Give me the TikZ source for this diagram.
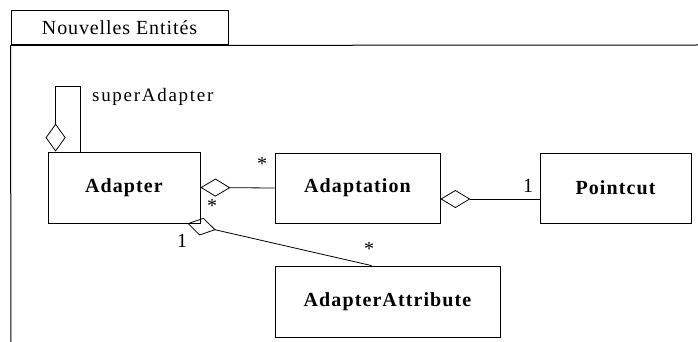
\documentclass[tikz,border=0pt]{standalone}
\usepackage{fontspec}
\setmainfont{Liberation Serif}
\newfontfamily\spA[LetterSpace=4.5]{Liberation Serif}
\newfontfamily\spB[LetterSpace=5.5]{Liberation Serif}
\newfontfamily\spC[LetterSpace=9]{Liberation Serif}
\usetikzlibrary{arrows.meta,calc}
\begin{document}
\begin{tikzpicture}[x=1pt,y=-1pt,
  every node/.style={font=\fontsize{20}{24}\selectfont},
  cls/.style={draw,line width=0.8pt,inner sep=0pt,font=\fontsize{20}{24}\spB\bfseries},
  ln/.style={line width=0.8pt},
  aggr/.style={line width=0.8pt,-{Diamond[open,length=30pt,width=18pt,line width=0.8pt]}},
  lbl/.style={inner sep=0pt}]
\useasboundingbox (0,0) rectangle (698,342);
% package frame
\node[draw,line width=1pt,minimum width=217pt,minimum height=34pt,inner sep=0pt,font=\fontsize{20}{24}\spA] (tab) at (119.5,28) {Nouvelles Entités};
\coordinate (fr) at (698,45);
\coordinate (fb) at (11,342);
\draw[line width=1pt] (tab.south west) -- (fr);
\draw[line width=1pt] (tab.south west) -- (fb);
% classes
\node[cls,minimum width=152pt,minimum height=71pt] (adapter) at (124,187.5) {Adapter};
\node[cls,minimum width=165pt,minimum height=70pt] (adaptation) at (357.5,188) {Adaptation};
\node[cls,minimum width=151pt,minimum height=70pt] (pointcut) at (615.5,188) {Pointcut};
\node[cls,minimum width=225pt,minimum height=71pt] (attr) at (387.5,301.5) {AdapterAttribute};
% self association
\coordinate (sa1) at ($(adapter.north west)+(33,0)$);
\coordinate (sa2) at ($(adapter.north west)+(8,0)$);
\draw[aggr,-{Diamond[open,length=28pt,width=20pt,line width=0.8pt]}] (sa1) -- ++(0,-65) -| (sa2);
\node[lbl,anchor=west,font=\fontsize{19}{23}\spC] (sal) at (92,97) {superAdapter};
% Adapter - Adaptation
\draw[aggr] (adaptation.west) -- (adapter.east);
\node[lbl] (m1) at (262,164) {*};
% Adaptation - Pointcut
\coordinate (ap1) at ($(adaptation.east)+(0,11)$);
\coordinate (ap2) at ($(pointcut.west)+(0,11)$);
\draw[aggr] (ap2) -- (ap1);
\node[lbl] (m2) at (528,186) {1};
% Adapter - AdapterAttribute
\coordinate (aa1) at ($(adapter.south east)+(-13,0)$);
\coordinate (aa2) at ($(attr.north west)+(97,0)$);
\draw[aggr,-{Diamond[open,length=29pt,width=18pt,line width=0.8pt]}] (aa2) -- (aa1);
\node[lbl] (m3) at (212,206) {*};
\node[lbl] (m4) at (182,241) {1};
\node[lbl] (m5) at (369,249) {*};
\end{tikzpicture}
\end{document}
